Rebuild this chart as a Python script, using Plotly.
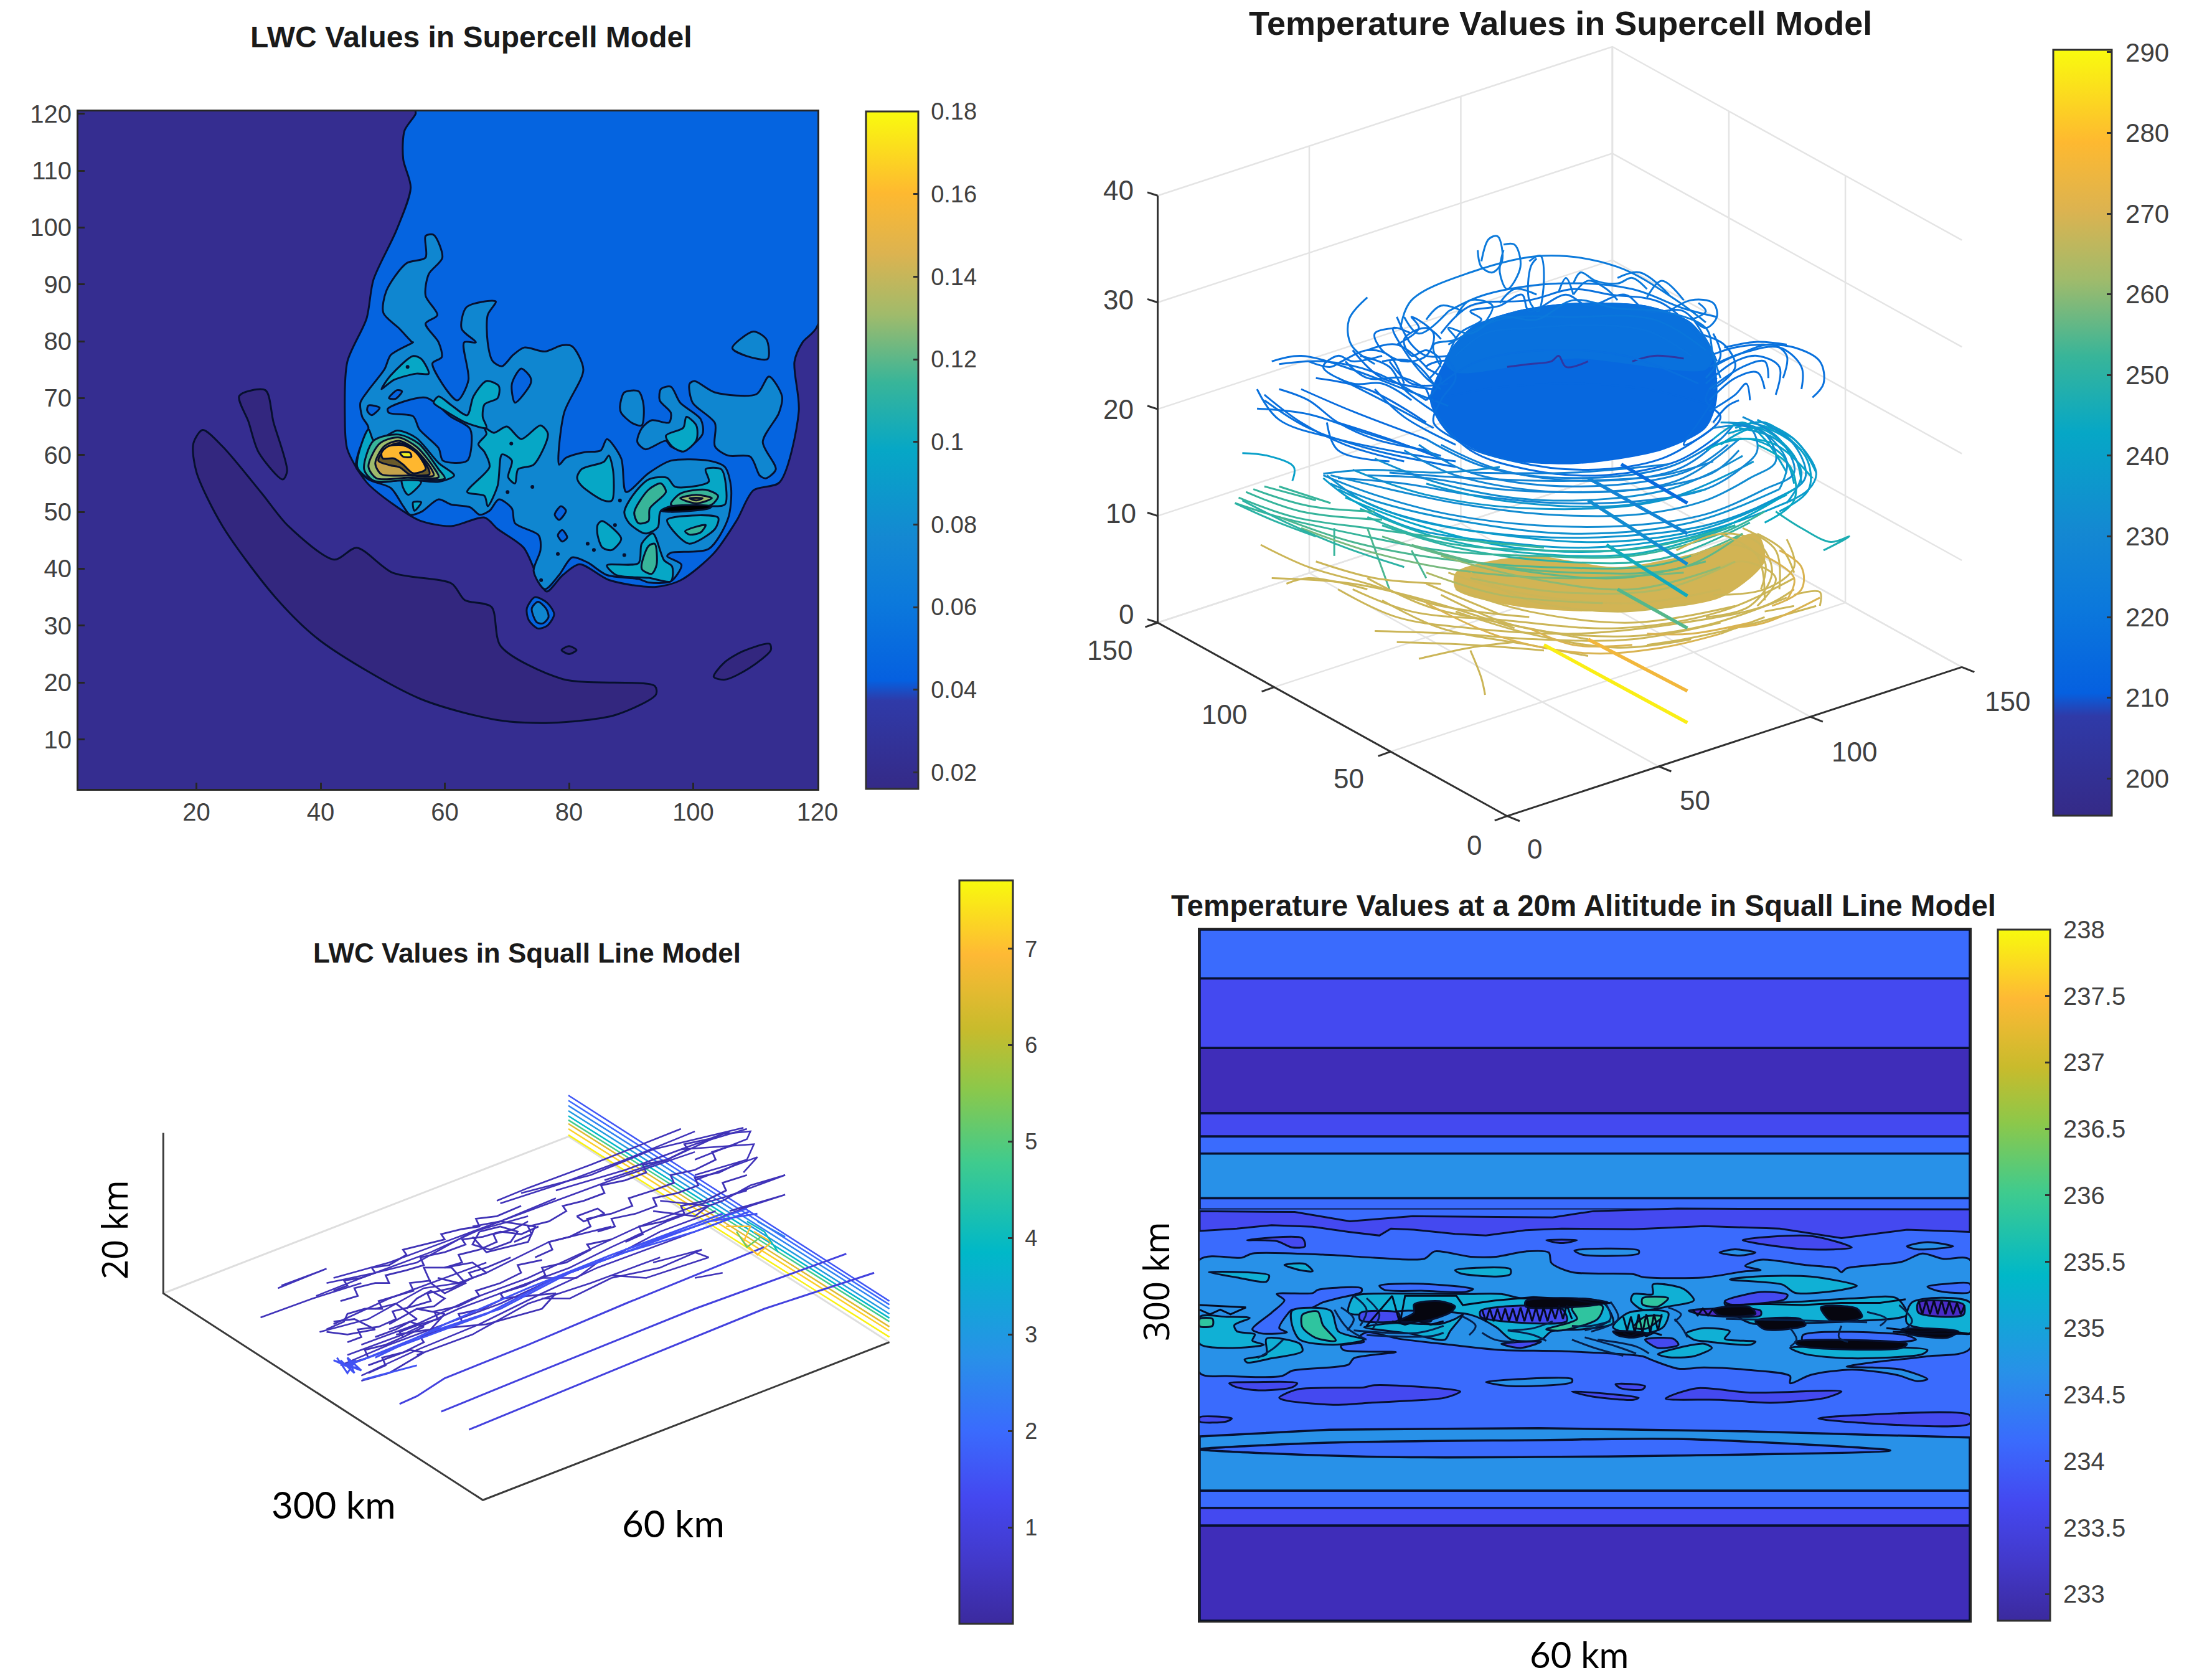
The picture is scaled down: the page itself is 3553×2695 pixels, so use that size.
import plotly.graph_objects as go
from plotly.colors import sample_colorscale

W, H = 3553, 2695

# ---------- colour scales ----------
parula_a = [[0, "#352a87"], [0.13, "#2f3aa8"], [0.16, "#0560e0"], [0.27, "#0b78dc"], [0.37, "#1488d2"],
            [0.50, "#06a7c6"], [0.60, "#38b599"], [0.70, "#a0bb6b"], [0.79, "#dcb350"], [0.88, "#feb930"], [1, "#f9fb0e"]]
parula_b = [[0, "#3b2a9e"], [0.08, "#4238c8"], [0.17, "#4448f0"], [0.26, "#3a6bfd"], [0.36, "#2891e8"],
            [0.50, "#00b8c8"], [0.62, "#3fcb8e"], [0.72, "#8cc84a"], [0.80, "#c8bb2c"], [0.90, "#feb935"], [1, "#f8fa0d"]]

# ---------- LWC supercell (x, y in grid units) ----------
lwc_blue = [(55.3,120),(53.5,117),(53.3,112),(54.5,107),(52.2,99.5),(48.5,90.8),(47.4,84),(44.3,76.4),(43.9,66.8),(44.3,61),
            (47.4,55.2),(51.6,51.4),(55.9,48.5),(61,47.5),(66.4,49),(68.5,47),(72.7,43.7),(74.8,38.9),(76.4,36),(79,38.9),
            (81.7,40.8),(86.5,38),(93.8,36.8),(98,38),(103.3,42.7),(107,48.5),(109.7,53.8),(113.9,55.2),(117,67.7),(116.3,76.4),
            (117.6,79.8),(120,82.7),(120,121),(55.3,121)]
lwc_low_main = [(19.5,62),(21,64.4),(24.2,61.5),(30.5,53.3),(34.8,47.5),(42.2,41.6),(45.8,43.7),(51.6,39.3),(61.1,37.4),(63.2,34.5),
                (67.5,33.3),(69,26.4),(79,20.6),(93.8,19.4),(94,17.9),(87.5,14.3),(77,12.9),(68.5,13.4),(55.9,17.2),(40,27.3),
                (32.7,35),(24.2,47.5),(20,57)]
lwc_low_b = [(26.9,70.4),(31.1,71.4),(32.4,65.8),(34.6,57.2),(33.9,55.7),(30,60.5),(28.4,65.8)]
lwc_low_c = [(103.3,21),(105,23.5),(108,25.5),(112.3,26.8),(112.5,25.7),(109,22.5),(105.1,20.5)]
lwc_low_d = [(78.8,25.7),(80,26.4),(81.2,25.7),(80,25)]
lwc_main = [(54.9,79.8),(51.3,77.6),(50.3,75.1),(47.7,71.4),(46.4,69.2),(46.7,66.7),(47.7,64.8),(46.2,60.8),(45.7,57.9),(47.7,55.7),
            (51.3,54.2),(53.3,51),(54.4,49.5),(56.2,50),(59,52.2),(61,51.3),(64.1,50.8),(65.6,49.5),(67.2,50.2),(68.7,52.2),
            (70.8,50.6),(71.3,48),(75.1,45.9),(75.4,43.3),(74.3,39.6),(76.1,36.4),(78.4,38.9),(80.5,42),(83,41.1),(86.1,38.9),
            (91.2,38.2),(92.8,37.6),(96.4,37.8),(98.1,40.7),(95.8,42.2),(96.4,42.8),(102.5,43.5),(105.6,48.8),(106.1,54.2),(105.1,57.9),
            (102.5,59),(96.4,59),(92.8,56.8),(89.2,53.5),(88.4,59.4),(86.1,62.8),(85.1,60.8),(82.5,60.5),(79.5,59.5),(78.4,58.3),
            (79.2,67.4),(82.3,75),(80.5,79.1),(78.9,79.3),(76.1,78.2),(72.8,78.9),(71,77.6),(69.2,75.6),(67.7,76.5),(66.9,79.8),
            (66.9,84.6),(68.2,87),(63.5,86),(62.7,82.2),(65,79.8),(63.1,79.8),(63.8,73.2),(62,69.6),(58,76.1),(59.5,77.2),(59,79.8),
            (56.9,83.1),(58.8,84.6),(56.9,88),(57.4,91.8),(59.6,94.7),(58.2,98.7),(56.9,98.5),(56.9,94.7),(53.8,93.7),(50.6,88.9),
            (50.1,85),(52.7,82.2),(54.8,79.8)]
lwc_right = [(99.4,72.5),(100.2,73),(103.5,71),(110.2,70.7),(112.2,73.8),(114.3,70.3),(113.8,67.4),(111.2,62.3),(113.3,57.5),(111.7,55.9),
             (110.7,56.4),(109.2,59.7),(105.6,59.9),(103.5,61.5),(103.5,65.6),(99.9,69.2)]
lwc_mid = [(94.8,71.6),(96.4,72),(97.9,69.2),(101.2,66.3),(101.5,63.7),(98.4,60.8),(96.4,61.5),(95.6,62.5),(92.3,61),(91,62.3),
           (91.7,64.7),(93.3,66.1),(96.1,65.7),(96.4,67.4),(94.6,69.6)]
lwc_oval = [(88.2,68.5),(88.9,71),(91.2,71.2),(92,68.8),(91.7,65.2),(90.2,65.6),(88.4,67.4)]
lwc_oval_top = [(106.3,78.8),(109.7,81.7),(111.8,80.3),(112,76.9),(108.6,77.4)]
lwc_ring_out = [(73.2,33),(74.5,35),(76.5,34),(77.6,32),(76.5,30),(75,29.5),(73.5,31)]
lwc_holes = [[(71.3,69.2),(70.8,72.5),(72.3,75.2),(73.8,73.6),(73.8,72.5)],
             [(51,67.4),(50.8,68.1),(56.9,70.1),(61,66.7),(64.1,64.5),(63.6,59),(59.7,59),(59,61.2),(55.9,64.5),(54.9,66.8)],
             [(47.5,67.8),(47.7,68.7),(49.5,68.3),(48.2,67)],
             [(51,70),(52.3,71.4),(53.1,71.2),(52.1,69.9)],
             [(77.7,49.5),(78.7,51),(79.5,50.2),(78.4,48.6)],
             [(78.2,45.9),(78.9,46.8),(79.7,45.5),(78.9,44.8)]]
lwc_ring_in = [(74,33),(75,34.2),(76.3,33),(76.7,31.5),(75.8,30.4),(74.8,30.6)]
lwc_teal = [[(49.8,71.6),(51.3,74),(54.9,77.4),(56.2,76.9),(57.4,74.3),(55.4,74.3),(51.8,73.2)],
            [(66.4,64.8),(67.9,63.9),(70,65),(72.3,62.8),(75.4,65.2),(76.6,63.7),(74.3,58.3),(71.8,57.5),(71.3,55),(70.2,56.1),(70.8,59),
             (69.2,60.1),(68.5,54.6),(66.9,51),(66.4,52.8),(63.6,53.5),(67.2,57.9),(66.4,60.5),(65.4,61.9),(66.7,63.7)],
            [(58.2,69.2),(59,70.3),(61,68.8),(63.6,67),(64.6,70.3),(66.7,73),(68.7,72.1),(68.5,70),(66.4,68.9),(66.1,66.7),(66.7,64.8),
             (63.6,65.6),(60,67.8)],
            [(81.3,56),(82,57.5),(85.6,58.8),(86.4,59.9),(87.1,57.2),(86.9,52),(85.6,52),(82,54.6)],
            [(84.6,47.7),(85.3,48.4),(88.4,45.3),(86.9,43.3),(85.4,43.7),(84.6,45.9)],
            [(95.6,63.4),(98.4,64.8),(98.9,66.7),(100.5,65.2),(100.5,62.6),(98.4,60.6),(96.6,61.5)],
            [(86.1,40.6),(91.2,41),(91.7,44.4),(93.5,46.2),(95.3,41.5),(96.6,40.4),(96.4,37.8),(92.8,38.4),(87.6,38.9)],
            [(88.9,49.9),(90.2,52.8),(92.8,55.7),(95.8,56),(97.1,54.4),(102.5,55.3),(102,57.5),(104.5,57.5),(105.3,54.2),(105.1,51.3),
             (101.5,51),(94.8,50.2),(94.3,47.3),(92.3,46.2),(89.7,48)],
            [(95.8,48.6),(104,49),(103.5,47),(99.4,44.4),(97.4,45.9)],
            [(53.1,55.7),(56.2,55.3),(54.1,53),(53.3,54.2)],
            [(54.9,51.7),(56.2,51.7),(55.1,50.2)],
            [(45.9,57.9),(47.7,64.5),(48.7,62.3),(52.3,64.3),(55.4,63),(59,58.6),(61.5,56.4),(59,55.3),(53.9,55.7),(48.7,55.3)]]
lwc_green = [[(90.5,49.9),(92.8,53.9),(94.8,55),(95.6,53.5),(93,50.6),(92.8,48.4),(91.2,48)],
             [(91.7,40),(92.8,44),(93.8,44.4),(94.1,40.7),(93.3,39.1)],
             [(98.7,46.6),(102,47.7),(101.2,46.4),(99.4,46)],
             [(96.4,51.3),(97.9,53.2),(102,53.9),(104,52.8),(103,51.3),(99.4,50.6)],
             [(47,57.5),(48.5,62.5),(52.5,63.6),(55.8,62),(59,57.5),(60,55.9),(54,55.6),(48.5,55.5)]]
lwc_olive = [[(97.9,52.4),(100.5,53),(103,52.4),(100.5,51.5)],
             [(47.7,58),(49.5,62),(52.5,63.1),(55.5,61.4),(58.4,57.5),(59,56.1),(54,56),(49,55.9)]]
lwc_tan = [[(99.4,52.4),(101.5,52.4),(100.5,52)],
           [(48.8,58.5),(50.2,61.5),(52.6,62.5),(55.3,60.9),(57.8,57.6),(58.2,56.4),(54,56.4),(49.8,56.6)]]
lwc_gold = [[(49.3,59),(50.5,61.2),(52.7,62.1),(55.3,60.7),(57.4,57.5),(57.5,56.6),(54.3,56.6),(52.8,57.8),(51.2,58.2)]]
lwc_orange = [(49.8,60.4),(50.8,61.5),(53.3,61.7),(55.4,60.4),(56.9,57.5),(54.9,56.8),(53.3,58.3),(51.8,59.4),(50,59.4)]
lwc_yellow = [(52.8,60.4),(54.4,60.4),(54.6,59.7),(53.3,59.7)]
lwc_smear = [(94.8,50.2),(96.4,51),(103,51),(102.5,50.6),(96.4,50)]
lwc_dots_x = [74.1, 70.1, 88.2, 83, 88.9, 78.2, 87.4, 84, 75.5, 54, 70.7]
lwc_dots_y = [54.4, 53.5, 52, 44.4, 42.4, 42.6, 47.7, 43.3, 38, 75.5, 62]
lwc_ticks_x = [20, 40, 60, 80, 100, 120]
lwc_ticks_y = [10, 20, 30, 40, 50, 60, 70, 80, 90, 100, 110, 120]
lwc_cb_ticks = [0.02, 0.04, 0.06, 0.08, 0.1, 0.12, 0.14, 0.16, 0.18]

# ---------- temperature squall (x km, y km) ----------
sq_band_edges = [300, 278.8, 248.6, 220.3, 210.2, 202.8, 183.4, 178.5]
sq_band_temps = ["#3a6bfd", "#4449f0", "#3f2db9", "#4449f0", "#3a6bfd", "#2891e8", "#3a6bfd"]
sq_lower_edges = [56.5, 48.9, 41.3, 0]
sq_lower_temps = ["#3a6bfd", "#4449f0", "#3f2db9"]
sq_lower_arc = [(0,80),(10.1,82.9),(26.4,83.6),(42.6,82.2),(60,79.5),(60,56.5),(0,56.5)]
sq_lens = [(0,74.4),(10.1,77.3),(26.4,78.4),(37.2,78.9),(53.8,73.9),(37.2,71.7),(15.5,71),(4.7,72.8)]
sq_wave = [(0,177.8),(7.4,177.4),(11.7,173.4),(16.6,175.6),(27.5,175.1),(30.7,177.8),(37.2,178.9),(60,178.5),(60,168.8),(55.1,169.7),
           (50,166.1),(45.2,170.2),(39.3,171.3),(33.8,169.9),(28.2,170.2),(25.4,169.5),(22.3,167.2),(19.9,167.9),(16.7,169.7),(14.9,170.2),
           (14,167.2),(11.6,168.8),(8.8,171),(5.6,171.7),(2.9,170.2),(0,169.2)]
sq_central = [(0,156.7),(3.3,157.6),(4.1,159.4),(9.6,158.9),(13.6,157.6),(17.5,157.1),(18.3,160.3),(21.1,158),(23.1,158),(25.4,160.3),
              (27.2,159.8),(27.4,155.3),(29,151.3),(33.8,150.4),(34.5,149.2),(39.3,149),(42.5,151.7),(43.7,152.2),(42.5,154),(43.7,156.7),
              (47.2,154.4),(49.6,153),(50,151.3),(50.4,153),(54.7,155.8),(56.3,159.4),(57.9,157.1),(60,156.7),(60,118),(56.7,114.8),
              (52.4,112.1),(50.4,110.3),(52.4,109.9),(54.7,109),(56.7,104.9),(55.9,104),(54.3,106.7),(50.8,109),(47.6,106.7),(46,103.1),
              (46,106.2),(42.5,109),(39.3,109.9),(37.3,109.4),(35.3,113),(34.5,114.8),(28.2,117),(23.5,117.5),(19.5,119.8),(15.5,122.4),
              (13,125.2),(12.4,122.9),(12.8,121.1),(11,119.3),(11.2,117.5),(15.3,116.6),(12,113.9),(11.6,111.2),(7.2,108.5),(6.4,106.2),
              (2.1,106.2),(0,107.6)]
sq_purple = [[(2.3,103.1),(4.5,103.6),(7.6,103.1),(7.2,101.3),(4.8,100),(2.9,101.3)],
             [(6.2,96.8),(7.6,100.4),(12.8,101.3),(13.6,102.2),(20.3,99.5),(19.1,96.8),(13.2,94.6),(10.8,93.7),(6.8,95.5)],
             [(29,99.5),(34.2,96.8),(33.8,95.9),(30.6,97.3)],
             [(32.4,102.7),(34.7,101.8),(34.5,100.4),(32.8,100.9)],
             [(36.3,96.4),(38.7,100.9),(42.9,99),(50,99.5),(48.8,96.8),(44.5,94.6),(40.5,95.9)],
             [(42.3,165.2),(47.6,167),(50.8,162),(47.2,161.2)],
             [(3.7,165.2),(8,166.1),(8.2,162.5),(7.2,162),(6,164.8)],
             [(27,165.2),(29.4,165.2),(28.2,163.9)],
             [(0,88.3),(2.5,87.8),(2.1,86.5),(0,86.5)],
             [(48.2,87.8),(51.2,89.2),(60,89.2),(60,85.6),(51.2,86)]]
sq_light = [[(22.3,103.6),(29,104.9),(29,103.6),(24.3,101.8)],
            [(40.5,159.8),(41.7,161.2),(43.3,159.8),(42.1,158.5)],
            [(29.2,160.7),(34.2,160.7),(34.2,159.4),(29.8,158.9)],
            [(55.1,162.5),(56.7,164.3),(58.7,162.5),(55.9,161.2)]]
sq_blue_inner = [[(6,141.8),(8.8,142.2),(9.2,143.6),(12.6,144.3),(12.6,142.7),(10.8,140),(9.6,138.2),(8.4,135),(7.2,135),(6.8,132.8),
                  (6.2,127),(6.8,125.2),(4.8,124.7),(4.1,126.5),(5.6,133.7),(6.6,139.1)],
                 [(14,145.4),(17.1,146.3),(21.3,144),(20.7,142.7),(17.5,143.2),(14.4,143.6)],
                 [(56.7,145),(58.3,146.3),(60,146.3),(60,142.7),(57.5,143.2)],
                 [(47,124),(55,124),(55.8,122),(47,121)]]
sq_teal = [[(41.3,148.1),(43.3,149.4),(47.6,149.4),(51.2,145.4),(50,143.6),(46.4,142.3),(45.4,145.9)],
           [(19.9,152.2),(24.2,152.6),(24.2,150.4),(23.1,149.4),(20.3,150.8)],
           [(6.6,154.4),(8.2,154.9),(8.8,151.7),(7.8,152.2)],
           [(0.7,151.3),(5.4,149.9),(5.2,147.2),(2.9,149)],
           [(0,131.9),(2.1,131.9),(3.9,131.4),(2.7,128.3),(2.9,125.6),(4.3,124.3),(4.1,121.6),(5,119.8),(2.5,118.4),(0,120.2)],
           [(5.2,122.4),(7.8,120.2),(8,117),(5.6,113.9),(3.7,112.1),(3.5,113.4),(5.2,115.7)],
           [(7.2,134.6),(10.2,134.6),(10.8,125.6),(12.8,122),(10.4,119.8),(7.8,122),(7.2,128.3)],
           [(12.8,127.4),(15.1,129.2),(18.7,128.8),(19.9,131),(20.5,132.8),(19.5,125.6),(19.1,122),(16.3,124.7)],
           [(12,140.9),(12.8,141.8),(20.7,141.8),(23.5,141.8),(25,140),(31.4,138.2),(32.2,129.2),(29.8,126.5),(27.4,125.6),(26.6,122),
            (24.3,122),(23.1,127.4),(21.1,132.8),(16.3,134.6),(11.6,133.7)],
           [(32.2,127.4),(33.4,133.7),(36.5,133.7),(36.1,127.4),(34.2,124.3)],
           [(33.8,141.8),(35.3,141.8),(35.3,145.9),(37.7,144),(38.5,139.1),(36.5,136.4),(34.5,135),(33.6,139.1)],
           [(37.9,124.7),(39.3,127),(41.3,125.6),(40.9,122.4),(43.3,121.1),(42.9,119.8),(39.7,121.1),(38.5,122)],
           [(35.7,115.7),(39.3,120.2),(39.9,118.4),(38.5,114.8),(36.5,114.4)],
           [(46,118.4),(49.2,118.9),(56.7,117.5),(56.3,115.7),(50.8,113.9),(47.2,115.7)],
           [(40.9,138.2),(45.6,138.2),(51.2,140),(54.3,140),(55.1,132.8),(51.2,130.1),(47.2,129.2),(42.9,129.2),(41.3,134.6)],
           [(55.5,138.2),(60,138.2),(60,124.7),(58.7,125.6),(55.1,129.2)]]
sq_green = [[(8,132.8),(9.2,134.2),(9.6,128.3),(10.6,121.6),(9,122.9),(8,127.4)],
            [(30.2,138.2),(31.4,136.4),(31,131),(28.2,126),(27,126.5),(29.4,131),(29,135.5)],
            [(34.5,140),(36.5,140),(35.7,136.4),(34.5,137.3)],
            [(33.8,127.4),(34.7,132),(36,132),(34.8,126.8)],
            [(0,131),(1,131),(1,128),(0,127.8)]]
sq_violet = [[(21.9,134.6),(28.2,135.5),(28.6,130.1),(21.9,131.9)],
             [(34.7,122),(36.9,122.4),(37.3,119.8),(35.7,118.4)],
             [(23.5,120.2),(26.6,121.1),(25,118.4)],
             [(40.9,138.7),(43.7,142.7),(45.8,141.4),(45.6,139.6),(41.3,137.3)],
             [(12.5,133.5),(15.5,133.5),(15.5,130.5),(12.5,130.5)]]
sq_indigo = [[(56,138.2),(59.5,137.3),(59.5,132.8),(56,133.7)],
             [(38.1,134.6),(43.7,134.6),(43.7,132.5),(39,133)]]
sq_black = [[(16.7,137.3),(18.7,138.7),(19.9,136.4),(19.5,133.7),(17.5,130.1),(15.5,130.1),(16.7,133.7)],
            [(25.4,138.7),(29,140),(31.8,138.2),(29.8,136.4),(25.4,136.4)],
            [(32.2,125.6),(35,124.7),(33.8,122.9),(32.6,123.8)],
            [(40,135.2),(42.9,136),(43.3,133.2),(40.5,132.5)],
            [(48.4,136),(51.2,135.5),(51.6,131.9),(49.2,130.1)],
            [(43.3,130.1),(46.8,131),(47.2,128.3),(44,126.5)],
            [(54.7,126.5),(59.1,125.6),(58.3,122.9),(55.1,124.7)],
            [(46.4,121.1),(55.1,120.2),(54.7,118.4),(46.8,119.3)]]
sq_olive = [[(16.5,131),(17.4,136),(18.2,135.5),(18,130)], [(44,130),(45.5,130.5),(45.5,129),(44,129)]]
sq_scribbles = [
 [(22,135),(22.3,130),(22.6,135.5),(22.9,130),(23.2,135.5),(23.5,130),(23.8,135.5),(24.1,130),(24.4,135.5),(24.7,130),(25,136),(25.3,130),
  (25.6,136),(25.9,130),(26.2,136),(26.5,130),(26.8,136),(27.1,130),(27.4,136),(27.7,131),(28,137),(28.3,131),(28.6,137),(29,131)],
 [(33,132),(33.3,126),(33.6,132),(33.9,125),(34.2,133),(34.5,125),(34.8,133),(35.1,125),(35.4,133),(35.7,126),(36,133)],
 [(38.4,135),(38.8,132.5),(39.2,135.5),(39.6,132.5),(40,135.5)],
 [(56,139),(56.3,133),(56.6,139),(56.9,133),(57.2,139),(57.5,133),(57.8,139),(58.1,133),(58.4,138.5),(58.7,133),(59,138),(59.3,133),(59.6,137)],
 [(0,135),(0.8,133),(1.6,135),(2.4,133),(3.6,136),(0,137)],
 [(53.5,127),(56,125.5),(58,126),(60,124.5),(56,124.5),(54,125.5)],
 [(13,128),(15,141),(15.6,129),(16,141),(20,141),(20.5,137),(23,139),(26,140.5),(29,139.5),(31,137.5),(32,138)],
 [(41,137),(44,137.5),(47,137),(50,138),(53,138),(55,139.5)],
 [(33,125),(33.6,123.5),(34.2,125),(34.8,123.5),(35.4,125),(36,124)],
 [(15,130),(16,128.5),(17,130),(18,128.5),(19,130)],
]
sq_ripples = [
 [(10.5,135),(11.5,127),(13,122)], [(12,141),(13,135),(12.5,128)], [(11,136),(12,131),(11.5,126)], [(13,140),(14,133),(13.5,127)],
 [(31.6,138),(32,131),(30,126)], [(32,138.5),(32.6,131),(30.5,125.5)], [(29,122),(31,118),(33,115)], [(30,123),(32.5,119),(34,116)],
 [(31,122),(34,119),(35,116)], [(12,126),(17,125),(19,128)], [(13,124),(18,123.5),(19,125)], [(41,131),(46,130.5),(52,129.5)],
 [(24,126),(26,124),(27,121.5)], [(22,125),(23,122),(24.5,121)], [(46,127),(46.5,122),(46,119)], [(50,128),(49.8,123),(50.5,121)],
 [(37,131),(37.6,127),(38,123)], [(6.5,122),(5.7,118),(4.5,114)], [(20.5,132),(21.5,128),(21,124)], [(27.5,130),(26,127),(24,126)],
 [(52,134),(53.5,131),(53,128)], [(54.5,137),(55.5,130),(54.5,125)], [(29,128),(30.5,128),(32,130)], [(36.5,136),(37.5,133),(37,130)],
]
sq_cb_ticks = [233, 233.5, 234, 234.5, 235, 235.5, 236, 236.5, 237, 237.5, 238]
sq_cb_text = ["233", "233.5", "234", "234.5", "235", "235.5", "236", "236.5", "237", "237.5", "238"]

# ---------- temperature supercell: axis values, traced paths in the 3-D view plane ----------
t3_x0, t3_v0 = 610, 1468
t3_xvec, t3_yvec, t3_zk = (618, -268), (-475, -348), 19.2
t3_tick_xy = [0, 50, 100, 150]
t3_tick_z = [0, 10, 20, 30, 40]
t3_cb_ticks = [200, 210, 220, 230, 240, 250, 260, 270, 280, 290]


def t3(x, y, z=0):
    return (t3_x0 + t3_xvec[0]*x/150 + t3_yvec[0]*y/150, t3_v0 + t3_xvec[1]*x/150 + t3_yvec[1]*y/150 - t3_zk*z)


t3_blob_low = [(525,650),(560,590),(620,560),(700,545),(800,550),(860,580),(890,640),(895,720),(880,770),(820,810),(700,835),(600,825),(530,780),(505,720)]
t3_blob_up = [(525,650),(560,590),(620,560),(700,545),(800,550),(860,580),(890,640),(880,665),(700,645),(540,670)]
t3_blob_warm = [(540,1030),(640,1000),(760,1020),(880,990),(950,960),(960,1010),(900,1075),(760,1100),(620,1090),(540,1060)]
t3_paths = [
 (205,[(610,660),(640,655),(670,650),(680,640),(690,660),(720,650)]),
 (205,[(780,650),(810,640),(850,645)]),
 (222,[(575,470),(585,430),(597,425),(603,470),(590,490),(575,480),(570,450)]),
 (222,[(605,440),(620,440),(628,480),(610,520),(600,490),(605,450)]),
 (220,[(640,470),(655,460),(660,500),(652,560),(640,540),(642,480),(650,465)]),
 (222,[(465,590),(480,540),(560,490),(660,460),(760,480),(840,540),(880,580)]),
 (220,[(530,560),(580,530),(680,510),(780,520),(850,555),(895,570)]),
 (220,[(470,570),(490,600),(530,560)]),
 (220,[(420,535),(395,575),(398,620),(430,655)]),
 (220,[(830,560),(860,540),(890,545),(895,570),(880,590),(860,570)]),
 (218,[(520,600),(560,550),(640,540),(700,520),(750,530),(820,545),(880,620)]),
 (218,[(290,650),(330,640),(400,665),(470,700),(530,730)]),
 (218,[(300,655),(360,650),(430,670),(500,720)]),
 (218,[(270,700),(300,755),(380,790),(470,815),(540,830)]),
 (218,[(270,735),(340,745),(420,780),(520,820)]),
 (218,[(280,720),(340,770),(430,810),(540,840)]),
 (218,[(365,760),(380,810),(450,830)]),
 (218,[(340,650),(370,660),(385,650),(420,630),(450,640),(470,690)]),
 (218,[(420,630),(460,620),(500,660)]),
 (218,[(460,570),(480,620),(500,640),(530,640)]),
 (216,[(350,680),(420,700),(500,760)]),
 (216,[(330,700),(400,740),(500,790)]),
 (216,[(380,760),(450,790),(530,830)]),
 (216,[(400,630),(440,680),(510,700)]),
 (216,[(450,650),(480,690),(530,690)]),
 (218,[(885,640),(920,625),(960,620),(1000,625),(1035,650),(1040,690),(1025,715)]),
 (218,[(885,660),(930,635),(980,625),(1010,660),(1010,700)]),
 (218,[(880,690),(920,650),(950,640),(980,660),(975,710)]),
 (218,[(885,720),(920,680),(950,670),(960,700)]),
 (218,[(885,740),(920,710),(935,690),(940,720)]),
 (218,[(890,760),(910,730),(925,720)]),
 (218,[(905,625),(950,615),(990,620)]),
 (216,[(500,700),(540,790),(620,830),(720,845),(820,825),(890,770)]),
 (216,[(510,740),(560,810),(640,845),(740,855),(840,830),(890,790)]),
 (225,[(520,800),(600,845),(720,865),(840,845),(900,790),(920,760)]),
 (219,[(540,640),(580,600),(640,590),(720,585),(800,595),(860,640)]),
 (217,[(520,690),(570,650),(660,630),(770,640),(870,690)]),
 (214,[(510,720),(580,700),(700,690),(800,700),(890,730)]),
 (220,[(530,620),(600,575),(700,570),(810,575),(880,630)]),
 (218,[(505,680),(520,650),(500,630),(480,640),(470,610),(500,590),(520,610)]),
 (218,[(480,600),(455,590),(470,630),(500,680),(520,700)]),
 (218,[(440,650),(480,650),(510,690)]),
 (218,[(410,640),(450,660),(470,700),(510,740)]),
 (218,[(380,680),(440,720),(510,770)]),
 (218,[(430,700),(470,750),(540,800)]),
 (219,[(890,600),(900,640),(880,680)]),
 (219,[(870,600),(905,620),(920,660),(890,700)]),
 (220,[(860,575),(880,560),(870,545)]),
 (221,[(700,530),(720,505),(745,520),(760,540)]),
 (221,[(800,535),(820,505),(850,540)]),
 (221,[(680,525),(690,500),(700,530)]),
 (221,[(760,500),(790,490),(830,530)]),
 (221,[(600,545),(620,520),(650,530)]),
 (221,[(540,570),(560,540),(590,550),(580,580)]),
 (221,[(500,575),(520,550),(550,560)]),
 (219,[(530,640),(545,600),(575,575),(560,560),(600,550),(630,530),(640,560),(690,530),(720,550),(770,530),(800,560),(850,560),(880,610),(895,650)]),
 (221,[(520,660),(510,620),(540,610),(530,590),(560,600),(600,570),(650,575),(700,540),(760,555),(820,560),(880,590),(890,640),(900,680)]),
 (217,[(500,720),(520,680),(500,660),(530,650),(540,680),(520,720),(510,760),(540,790)]),
 (216,[(895,680),(880,720),(900,750),(880,780),(850,800),(870,760),(890,720)]),
 (223,[(700,510),(710,490),(730,505),(760,510),(780,500),(800,520)]),
 (218,[(460,620),(490,590),(480,570),(510,600),(500,640),(470,650),(440,630),(430,600),(460,590)]),
 (218,[(440,640),(400,650),(380,640),(360,660),(400,690),(440,690),(480,720)]),
 (218,[(390,650),(420,680),(470,680),(500,700)]),
 (217,[(300,700),(340,720),(380,760),(430,790),(500,810)]),
 (217,[(280,710),(330,760),(390,800),(470,830)]),
 (219,[(890,660),(920,640),(970,620),(990,640),(985,680)]),
 (219,[(885,700),(930,660),(960,650),(965,680)]),
 (226,[(500,790),(580,840),(700,860),(830,840),(900,790)]),
 (228,[(490,800),(560,850),(700,875),(850,850),(910,800)]),
 (230,[(470,810),(540,855),(680,885),(840,865),(925,790)]),
 (233,[(430,825),(520,870),(660,900),(830,880),(930,820)]),
 (236,[(400,845),(500,890),(650,915),(820,900),(945,830)]),
 (240,[(895,800),(940,790),(985,820),(1000,870)]),
 (240,[(910,780),(960,770),(1015,820),(1020,880),(980,920)]),
 (240,[(940,760),(1000,790),(1030,850)]),
 (240,[(920,770),(960,760),(1010,810)]),
 (240,[(250,815),(285,820),(320,840),(318,865)]),
 (238,[(360,860),(400,900),(480,950),(600,975),(720,985),(850,965),(960,920),(1020,880),(1030,850),(1000,790),(960,760)]),
 (235,[(365,855),(420,905),(520,945),(640,965),(760,965),(880,945),(970,900),(1015,860),(1000,800),(950,755)]),
 (232,[(360,855),(430,890),(530,925),(650,945),(780,945),(880,925),(960,880),(1000,850),(980,790),(930,750)]),
 (232,[(370,855),(450,880),(540,905),(660,925),(790,925),(880,900),(940,860),(975,830),(960,780),(910,760)]),
 (230,[(380,860),(470,870),(560,890),(680,905),(800,900),(880,880),(930,840),(950,810),(940,770),(890,770)]),
 (230,[(420,855),(500,860),(600,880),(720,885),(820,875),(890,850),(925,810)]),
 (228,[(450,850),(560,860),(700,865),(820,855),(890,830)]),
 (232,[(360,852),(420,845),(520,850),(600,840)]),
 (236,[(500,870),(600,900),(760,910),(880,880)]),
 (226,[(560,850),(700,850),(830,835)]),
 (240,[(890,790),(930,760),(960,790),(990,850)]),
 (240,[(900,800),(950,770),(1000,820),(1010,870)]),
 (242,[(880,810),(920,790),(975,800),(1025,860)]),
 (247,[(975,920),(1010,950),(1050,975),(1075,965),(1040,990)]),
 (234,[(370,870),(440,905),(560,940),(700,960),(860,940),(980,880)]),
 (238,[(380,880),(470,930),(590,960),(740,975),(880,950),(990,890)]),
 (242,[(390,895),(490,945),(620,985),(760,990),(900,950),(1000,880)]),
 (246,[(410,915),(510,965),(640,995),(790,995),(920,945)]),
 (250,[(440,945),(540,985),(680,1010),(820,1005),(940,940)]),
 (244,[(950,800),(995,840),(1000,900),(960,940)]),
 (238,[(925,770),(975,790),(1010,850),(990,905)]),
 (235,[(900,760),(950,770),(990,830),(980,880)]),
 (252,[(240,905),(300,930),(400,960),(520,990),(650,1000),(780,1000),(900,960),(960,920)]),
 (252,[(245,895),(320,930),(420,950),(540,970),(660,985)]),
 (252,[(255,885),(330,920),(440,935)]),
 (252,[(265,880),(340,910),(430,920)]),
 (252,[(280,875),(350,900)]),
 (252,[(300,875),(370,905)]),
 (252,[(375,950),(375,1000)]),
 (254,[(420,950),(450,1060)]),
 (254,[(480,990),(500,1040)]),
 (250,[(420,930),(520,975),(660,990),(800,985),(920,945)]),
 (254,[(300,930),(400,975),(520,1005),(660,1020),(820,1015),(930,960)]),
 (258,[(330,950),(430,995),(540,1025),(680,1040),(850,1030)]),
 (250,[(250,900),(310,940),(390,985),(470,1020)]),
 (250,[(240,905),(290,935),(350,965)]),
 (268,[(840,990),(900,960),(950,975),(970,1030),(940,1090),(880,1110)]),
 (268,[(860,1000),(920,980),(960,1010),(955,1060)]),
 (268,[(880,1030),(930,1010),(975,1040),(950,1090)]),
 (268,[(890,1070),(960,1060),(1000,1020),(990,970)]),
 (268,[(560,1030),(640,1080),(760,1100),(860,1085)]),
 (268,[(530,1030),(620,1065),(780,1085),(900,1060)]),
 (268,[(540,1060),(640,1100),(780,1120),(920,1090)]),
 (256,[(440,965),(560,1010),(700,1030),(850,1020),(930,960)]),
 (256,[(480,980),(600,1020),(760,1040),(880,1010)]),
 (260,[(520,1000),(640,1040),(780,1060),(900,1020)]),
 (264,[(560,1040),(680,1065),(820,1060),(920,1010)]),
 (264,[(500,1030),(600,1070),(740,1085)]),
 (268,[(275,980),(340,1020),(420,1050),(520,1090),(640,1110)]),
 (268,[(290,1040),(400,1050),(500,1080),(620,1130)]),
 (268,[(310,1050),(340,1040),(420,1060)]),
 (268,[(430,1135),(540,1140),(650,1150),(780,1150),(900,1120)]),
 (268,[(460,1155),(560,1160),(660,1170)]),
 (268,[(490,1185),(560,1165),(620,1155)]),
 (268,[(560,1170),(575,1220),(580,1250)]),
 (268,[(380,1060),(460,1110),(560,1130),(700,1140),(850,1120),(960,1090),(1000,1060)]),
 (268,[(400,1060),(480,1100),(600,1115),(760,1130),(900,1100),(1000,1040)]),
 (268,[(800,1160),(850,1150),(920,1130),(1030,1090)]),
 (268,[(950,960),(985,990),(1000,1030)]),
 (268,[(930,950),(975,990),(980,1060)]),
 (268,[(900,960),(950,1000),(960,1080)]),
 (268,[(1000,1070),(1035,1065),(1035,1090)]),
 (268,[(960,1100),(1000,1090)]),
 (268,[(440,1080),(520,1130),(640,1160),(720,1180)]),
 (268,[(500,1050),(600,1105)]),
 (268,[(900,1140),(960,1110)]),
 (268,[(520,1070),(620,1125),(760,1145),(880,1125),(990,1075)]),
 (268,[(540,1100),(640,1140),(760,1165),(860,1150)]),
 (268,[(420,1040),(500,1090),(600,1120),(720,1150)]),
 (268,[(350,1010),(430,1040),(520,1050)]),
 (270,[(500,1085),(600,1145),(720,1175),(820,1165),(900,1140)]),
 (270,[(980,990),(1010,1020),(1010,1060),(970,1090)]),
 (270,[(960,1000),(1000,1040),(990,1080)]),
 (270,[(910,1130),(960,1120),(1035,1075)]),
 (270,[(800,1140),(860,1140),(940,1120)]),
 (270,[(640,1130),(700,1160),(780,1160)]),
]
t3_streaks = [(215,[(765,835),(855,905)]), (228,[(720,860),(855,960)]), (232,[(720,900),(855,1015)]),
              (245,[(745,980),(855,1072)]), (255,[(760,1060),(855,1130)]), (276,[(720,1150),(855,1243)]),
              (288,[(660,1160),(855,1300)])]

# ---------- LWC squall: traced paths in the 3-D view plane ----------
sl_cb_ticks = [1, 2, 3, 4, 5, 6, 7]
sl_band = [(1.6,435,835),(2.0,445,842),(2.5,455,850),(3.0,465,860),(3.8,475,868),(4.8,483,875),(6.5,490,885),(7.2,500,893),(7.6,512,905)]
sl_paths_dark = [
 [(715,640),(760,615),(850,570),(980,500)], [(720,645),(800,610),(900,560),(1000,505)], [(750,625),(850,590),(940,540),(1070,498)],
 [(800,620),(900,580),(1000,530),(1075,500)], [(870,600),(960,560),(1040,510),(1080,505),(1075,520),(1000,560)],
 [(980,540),(1085,530),(1075,560),(1000,590)], [(1000,600),(1090,555),(1070,585)], [(1050,630),(1130,590),(1080,610),(1040,640)],
 [(1050,660),(1130,628),(1080,650),(1040,670)], [(950,640),(1020,650),(1000,670),(940,660)],
 [(455,825),(520,790),(620,740),(700,690),(780,650),(880,600),(1000,545)], [(480,790),(560,760),(640,720),(720,680),(800,635)],
 [(470,800),(540,780),(600,760),(680,700),(760,670)],
 [(480,880),(560,830),(640,790),(700,760)], [(460,895),(530,870),(610,810),(660,800),(700,780),(790,720),(880,690)],
 [(520,920),(600,880),(680,830),(760,790),(840,740),(920,690),(1000,650),(1075,620)],
 [(500,940),(580,900),(660,850),(740,810),(820,770),(880,730),(960,680),(1040,640)],
 [(490,960),(560,920),(640,880),(720,840),(800,790),(880,750),(950,700),(1030,660)],
 [(520,980),(600,930),(690,880),(780,820),(860,770),(960,720),(1060,670)], [(600,940),(680,900),(760,840),(850,800),(950,750)],
 [(880,790),(950,770),(1010,735),(940,760)], [(880,785),(930,790),(1020,750),(1000,740)], [(1000,790),(1040,780)],
 [(400,810),(470,772),(405,805)], [(375,867),(450,830),(520,800)],
 [(720,820),(780,790),(830,790),(870,750)], [(780,830),(820,830),(880,790)],
]
sl_squiggles = [
 [(480,815),(500,805),(495,795),(520,790),(540,780),(535,770),(560,765),(585,745),(580,735),(610,725),(640,715),(635,705),(665,695),(690,690),(685,675),(715,670),(750,650)],
 [(490,835),(515,825),(510,810),(540,800),(560,800),(555,785),(585,775),(610,765),(605,750),(640,740),(670,725),(665,715),(695,710),(720,700),(750,705),(775,690)],
 [(470,890),(495,875),(500,860),(525,850),(550,850),(545,835),(570,825),(595,815),(590,800),(620,795)],
 [(500,915),(520,905),(515,890),(545,885),(570,870),(565,855),(595,845),(620,835),(615,820),(650,810),(680,790),(675,780),(700,770),(735,750)],
 [(505,955),(530,945),(525,930),(555,920),(580,905),(575,895),(605,880),(630,870),(625,855),(660,845),(690,825),(685,815),(720,800),(750,780),(745,765),(780,755)],
 [(530,975),(555,960),(550,945),(580,935),(610,915),(605,905),(635,890),(665,875),(660,860),(695,850),(725,830),(720,820),(755,805),(785,785),(780,770),(815,760),(850,735),(845,725),(880,715)],
 [(740,720),(765,705),(760,690),(790,680),(815,660),(810,650),(840,640),(870,625),(865,610),(900,600),(930,585),(925,570),(960,560),(990,540),(985,530),(1020,520),(1050,505)],
 [(770,750),(795,735),(790,720),(820,710),(850,690),(845,675),(880,665),(910,650),(905,635),(940,620),(970,605),(965,590),(1000,580),(1030,560),(1025,545),(1060,530)],
 [(860,700),(885,690),(880,675),(915,665),(945,650),(940,635),(975,625),(1005,610),(1000,595),(1035,585),(1065,565)],
 [(900,720),(925,705),(920,690),(955,680),(985,665),(980,650),(1015,640),(1045,620),(1040,605),(1075,590)],
 [(640,770),(665,760),(660,745),(690,735),(715,720),(710,705),(740,695),(760,680)],
 [(690,700),(720,690),(745,700),(735,720),(705,735),(680,725),(690,700)],
 [(600,850),(625,845),(640,830),(620,815),(600,830),(585,850)],
 [(540,905),(570,890),(590,875),(610,885),(580,905)],
 [(620,800),(610,770),(650,770),(670,800),(640,820),(620,800)],
 [(830,670),(860,655),(870,665),(840,680),(830,670)],
 [(680,690),(720,680),(770,690),(760,720),(700,740),(680,710)],
 [(640,770),(680,760),(700,780),(660,800),(630,790)],
 [(560,880),(600,850),(640,860),(620,890),(570,900)],
 [(480,875),(510,870),(540,890),(500,900),(470,895)],
 [(540,850),(570,840),(600,870),(560,890)],
 [(620,890),(700,880),(780,850),(800,820),(720,830)],
 [(520,990),(560,975),(610,935),(590,930),(530,960)],
]
sl_paths_blue = [
 [(500,960),(600,910),(700,860),(800,790),(900,740),(1000,700),(1080,660)],
 [(520,950),(620,895),(720,850),(820,780),(920,730),(1020,680),(1090,665)],
 [(540,945),(640,880),(760,810),(880,745),(1040,665)],
 [(900,735),(1000,690),(1075,655)],
 [(490,950),(510,975),(500,945),(520,970),(480,950),(505,965)],
 [(485,945),(500,975),(512,950),(495,960),(515,965)],
 [(522,988),(600,960)],
]
sl_paths_long = [
 [(575,1035),(600,1020),(640,985),(760,920),(900,840),(1100,730)],
 [(635,1050),(780,970),(1000,850),(1218,743)],
 [(675,1085),(900,960),(1100,850),(1258,780)],
]
sl_paths_mess = [(7.0,[(1045,690),(1080,690),(1070,720),(1090,745),(1110,720),(1085,700)]),
                 (4.0,[(1075,680),(1100,700),(1120,740)]),
                 (2.4,[(1090,680),(1130,710)]),
                 (5.2,[(1060,700),(1075,730),(1095,710)])]

# ---------- figure ----------
fig = go.Figure()
LINE = "#07102e"


def poly(points, colour, ax, lw=3.0, line=LINE, smooth=True):
    xs = [p[0] for p in points] + [points[0][0]]
    ys = [p[1] for p in points] + [points[0][1]]
    fig.add_trace(go.Scatter(x=xs, y=ys, mode="lines", fill="toself", fillcolor=colour,
                             line=dict(color=line, width=lw, shape="spline" if smooth else "linear", smoothing=0.8),
                             hoverinfo="skip", showlegend=False, xaxis=ax[0], yaxis=ax[1]))


def path(points, colour, ax, lw=3.0, smooth=False):
    fig.add_trace(go.Scatter(x=[p[0] for p in points], y=[p[1] for p in points], mode="lines",
                             line=dict(color=colour, width=lw, shape="spline" if smooth else "linear", smoothing=1.0),
                             hoverinfo="skip", showlegend=False, xaxis=ax[0], yaxis=ax[1]))


def cbar(ax, vmin, vmax, scale, left, top, width, height, ticks, text, size):
    fig.add_trace(go.Scatter(x=[None], y=[None], mode="markers", xaxis=ax[0], yaxis=ax[1], showlegend=False, hoverinfo="skip",
                             marker=dict(color=[vmin, vmax], cmin=vmin, cmax=vmax, colorscale=scale, size=1, opacity=0, showscale=True,
                                         colorbar=dict(x=left/W, xanchor="left", y=1-top/H, yanchor="top", len=height, lenmode="pixels",
                                                       thickness=width, thicknessmode="pixels", xpad=0, ypad=0, outlinecolor="#303030",
                                                       outlinewidth=3, ticks="inside", ticklen=9, tickwidth=3, tickcolor="#303030",
                                                       tickvals=ticks, ticktext=["\u00a0" + t for t in text],
                                                       tickfont=dict(family="Liberation Sans", size=size, color="#404040")))))


def colour(scale, vmin, vmax, v):
    return sample_colorscale(scale, [(v-vmin)/(vmax-vmin)])[0]


A1, A2, A3, A4 = ("x", "y"), ("x2", "y2"), ("x3", "y3"), ("x4", "y4")

# panel 1: LWC supercell
C_BG, C_LOW, C_BLUE, C_LIGHT, C_TEAL, C_GREEN = "#352d90", "#33277f", "#0564e0", "#0f86d0", "#06a7c6", "#38b599"
poly([(1,1.3),(120,1.3),(120,120.4),(1,120.4)], C_BG, A1, 0, smooth=False)
poly(lwc_blue, C_BLUE, A1)
for p in (lwc_low_main, lwc_low_b, lwc_low_c, lwc_low_d):
    poly(p, C_LOW, A1)
for p in (lwc_main, lwc_right, lwc_mid, lwc_oval, lwc_oval_top):
    poly(p, C_LIGHT, A1)
poly(lwc_ring_out, C_BLUE, A1)
poly(lwc_ring_in, C_LIGHT, A1)
for p in lwc_holes:
    poly(p, C_BLUE, A1)
for p in lwc_teal:
    poly(p, C_TEAL, A1)
for p in lwc_green:
    poly(p, C_GREEN, A1)
for p in lwc_olive:
    poly(p, "#9dbb6c", A1)
for p in lwc_tan:
    poly(p, "#c4a24b", A1)
for p in lwc_gold:
    poly(p, "#6a5a2a", A1)
poly(lwc_orange, "#feb72f", A1)
poly(lwc_yellow, "#eef020", A1)
poly(lwc_smear, "#000000", A1)
fig.add_trace(go.Scatter(x=lwc_dots_x, y=lwc_dots_y, mode="markers", marker=dict(color=LINE, size=6), hoverinfo="skip",
                         showlegend=False, xaxis="x", yaxis="y"))
cbar(A1, 0.016, 0.18, parula_a, 1391, 179, 84, 1088, lwc_cb_ticks, ["0.02","0.04","0.06","0.08","0.1","0.12","0.14","0.16","0.18"], 38)

# panel 2: temperature squall
for i, c in enumerate(sq_band_temps):
    poly([(0,sq_band_edges[i]),(60,sq_band_edges[i]),(60,sq_band_edges[i+1]),(0,sq_band_edges[i+1])], c, A2, 3.5, smooth=False)
poly([(0,178.5),(60,178.5),(60,56.5),(0,56.5)], "#3a6bfd", A2, 0, smooth=False)
for i, c in enumerate(sq_lower_temps):
    poly([(0,sq_lower_edges[i]),(60,sq_lower_edges[i]),(60,sq_lower_edges[i+1]),(0,sq_lower_edges[i+1])], c, A2, 3.5, smooth=False)
poly(sq_lower_arc, "#2891e8", A2, 3.5, smooth=False)
poly(sq_lens, "#3a6bfd", A2, 3.5)
poly(sq_wave, "#4449f0", A2, smooth=False)
for p in sq_purple:
    poly(p, "#4449f0", A2)
poly(sq_central, "#2891e8", A2)
for p in sq_light:
    poly(p, "#2891e8", A2)
for p in sq_blue_inner:
    poly(p, "#3a6bfd", A2)
for p in sq_teal:
    poly(p, "#10b0d5", A2)
for p in sq_green:
    poly(p, "#2fc49f", A2)
for p in sq_violet:
    poly(p, "#4449f0", A2)
for p in sq_indigo:
    poly(p, "#4a2cc8", A2)
for p in sq_olive:
    poly(p, "#a8a020", A2)
for p in sq_black:
    poly(p, "#06060f", A2)
for p in sq_ripples:
    path(p, "#07204a", A2, 3, smooth=True)
for p in sq_scribbles:
    path(p, "#050a20", A2, 3)
cbar(A2, 232.8, 238, parula_b, 3209, 1493, 84, 1110, sq_cb_ticks, sq_cb_text, 40)

# panel 3: temperature supercell
c3 = lambda v: colour(parula_a, 195.4, 290.3, v)
GRID = "#e4e4e4"
for z in t3_tick_z[1:]:
    path([t3(0,150,z), t3(150,150,z), t3(150,0,z)], GRID, A3, 2.5)
for v in t3_tick_xy[1:]:
    path([t3(v,0,0), t3(v,150,0), t3(v,150,40)], GRID, A3, 2.5)
    path([t3(0,v,0), t3(150,v,0), t3(150,v,40)], GRID, A3, 2.5)
path([t3(0,150,0), t3(150,150,0), t3(150,0,0)], GRID, A3, 2.5)
path([t3(150,150,0), t3(150,150,40)], GRID, A3, 2.5)
poly(t3_blob_low, c3(214), A3, 0, c3(214))
poly(t3_blob_up, c3(218), A3, 0, c3(218))
poly(t3_blob_warm, c3(269), A3, 0, c3(269))
for t, p in t3_paths:
    path(p, c3(t), A3, 3, smooth=True)
for t, p in t3_streaks:
    path(p, c3(t), A3, 5.5)
AX3 = "#303030"
path([t3(0,150,40), t3(0,150,0), t3(0,0,0), t3(150,0,0)], AX3, A3, 3)
for v in t3_tick_xy:
    a = t3(v,0,0)
    path([a, (a[0]+17, a[1]+9)], AX3, A3, 3)
    a = t3(0,v,0)
    path([a, (a[0]-17, a[1]+8)], AX3, A3, 3)
for z in t3_tick_z:
    a = t3(0,150,z)
    path([a, (a[0]-14, a[1]-6)], AX3, A3, 3)
cbar(A3, 195.4, 290.3, parula_a, 3298, 80, 94, 1230, t3_cb_ticks, [str(v) for v in t3_cb_ticks], 42)

# panel 4: LWC squall
c4 = lambda v: colour(parula_b, 0, 7.71, v)
path([(235,820),(818,515),(1280,915)], "#dedede", A4, 3)
for v, a, b in sl_band:
    path([(818,a),(1280,b)], c4(v), A4, 2.5)
for p in sl_paths_long:
    path(p, c4(1.0), A4, 3)
for p in sl_paths_dark:
    path(p, c4(0.4), A4, 2.6)
for p in sl_squiggles:
    path(p, c4(0.35), A4, 2.8)
for p in sl_paths_blue:
    path(p, c4(1.5), A4, 3)
for v, p in sl_paths_mess:
    path(p, c4(v), A4, 2.5)
path([(235,508),(235,820),(695,1222),(1280,915)], "#3a3a3a", A4, 3)
cbar(A4, 0.0, 7.71, parula_b, 1541, 1414, 86, 1194, sl_cb_ticks, [str(v) for v in sl_cb_ticks], 36)


# text
def label(px, py, text, size, family="Liberation Sans", bold=False, color="#404040", angle=0):
    fig.add_annotation(x=px/W, y=1-py/H, xref="paper", yref="paper", text=f"<b>{text}</b>" if bold else text, showarrow=False,
                       xanchor="center", yanchor="middle", textangle=angle, font=dict(family=family, size=size, color=color))


label(757, 60, "LWC Values in Supercell Model", 48, bold=True, color="#1a1a1a")
label(2506, 37, "Temperature Values in Supercell Model", 54, bold=True, color="#1a1a1a")
label(846, 1530, "LWC Values in Squall Line Model", 44, bold=True, color="#1a1a1a")
label(2543, 1454, "Temperature Values at a 20m Alititude in Squall Line Model", 47.5, bold=True, color="#1a1a1a")
label(536, 2416, "300 km", 60, "Lato", color="#000000")
label(1081, 2446, "60 km", 60, "Lato", color="#000000")
label(2536, 2656, "60 km", 58, "Lato", color="#000000")
label(183, 1975, "20 km", 56, "Open Sans", color="#000000", angle=-90)
label(1856, 2058, "300 km", 56, "Open Sans", color="#000000", angle=-90)

offs_z = [(-43,-15), (-50,-5), (-53,0), (-53,-5), (-53,-10)]
for z, o in zip(t3_tick_z, offs_z):
    a = t3(0,150,z)
    fig.add_annotation(x=a[0]+o[0], y=a[1]+o[1], xref="x3", yref="y3", text=str(z), showarrow=False,
                       font=dict(family="Liberation Sans", size=44, color="#404040"))
offs_y = [(-45,52), (-57,48), (-68,49), (-65,50)]
for v, o in zip(t3_tick_xy, offs_y):
    a = t3(0,v,0)
    fig.add_annotation(x=a[0]+o[0], y=a[1]+o[1], xref="x3", yref="y3", text=str(v), showarrow=False,
                       font=dict(family="Liberation Sans", size=44, color="#404040"))
offs_x = [(37,59), (49,61), (60,63), (62,62)]
for v, o in zip(t3_tick_xy, offs_x):
    a = t3(v,0,0)
    fig.add_annotation(x=a[0]+o[0], y=a[1]+o[1], xref="x3", yref="y3", text=str(v), showarrow=False,
                       font=dict(family="Liberation Sans", size=44, color="#404040"))

frame = dict(showline=True, linecolor="#262626", linewidth=3, mirror=True, showgrid=False, zeroline=False)
tick = dict(ticks="inside", ticklen=10, tickwidth=3, tickcolor="#262626", tickfont=dict(family="Liberation Sans", size=40, color="#404040"))
hidden = dict(visible=False, showgrid=False, zeroline=False)
fig.update_layout(
    width=W, height=H, margin=dict(l=0, r=0, t=0, b=0, autoexpand=False), paper_bgcolor="white", plot_bgcolor="rgba(0,0,0,0)", showlegend=False,
    xaxis=dict(domain=[126/W, 1313/W], range=[1, 120], tickvals=lwc_ticks_x, **frame, **tick, anchor="y"),
    yaxis=dict(domain=[1-1267/H, 1-179/H], range=[1.3, 120.4], tickvals=lwc_ticks_y, **frame, **tick, anchor="x"),
    xaxis2=dict(domain=[1927/W, 3164/W], range=[0, 60], showticklabels=False, ticks="", **frame, anchor="y2"),
    yaxis2=dict(domain=[1-2603/H, 1-1493/H], range=[0, 300], showticklabels=False, ticks="", **frame, anchor="x2"),
    xaxis3=dict(domain=[1700/W, 1], range=[0, 1568], anchor="y3", **hidden),
    yaxis3=dict(domain=[1-1400/H, 1], range=[1568, 0], anchor="x3", **hidden),
    xaxis4=dict(domain=[0, 1750/W], range=[0, 1568], anchor="y4", **hidden),
    yaxis4=dict(domain=[0, 1295/H], range=[1568, 0], anchor="x4", **hidden),
)
fig.write_html("out.html", config={"displayModeBar": False},
               post_script="document.body.style.margin='0';document.body.style.overflow='hidden';")
